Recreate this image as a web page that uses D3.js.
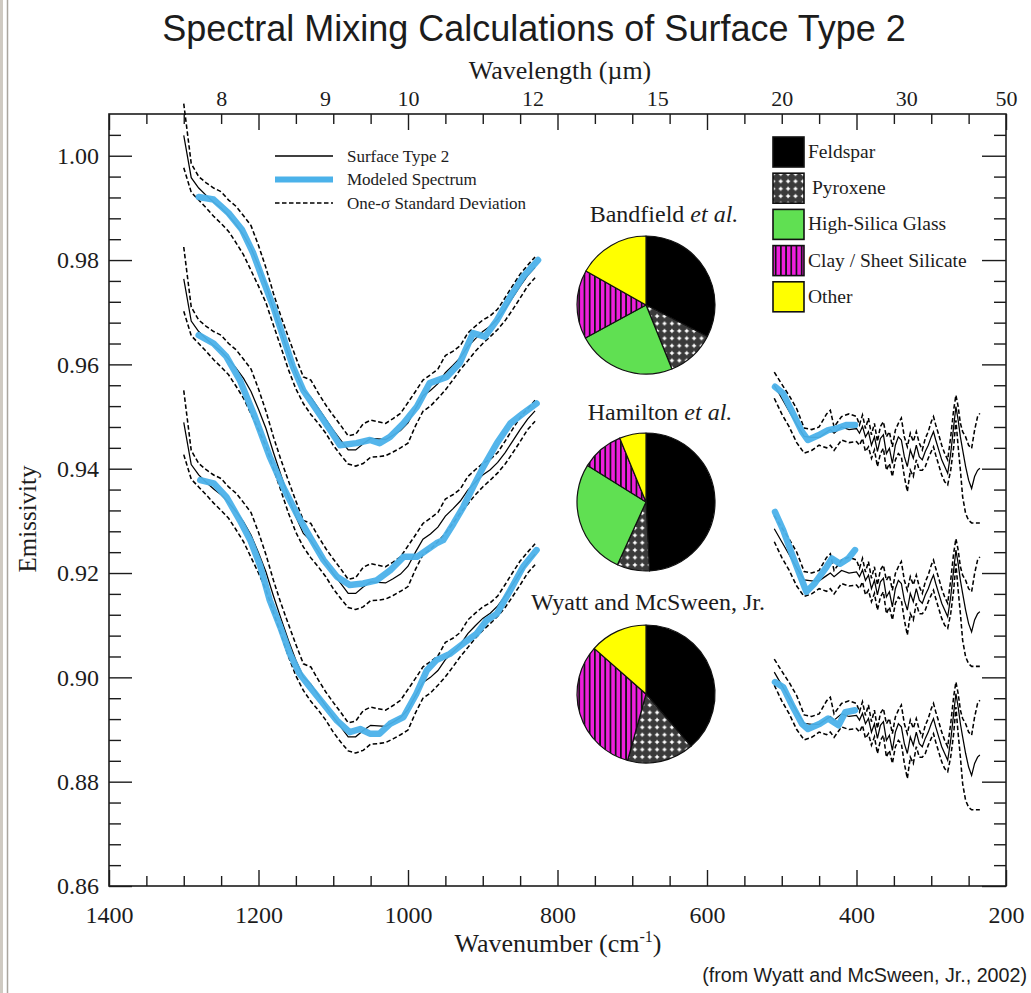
<!DOCTYPE html>
<html>
<head>
<meta charset="utf-8">
<script src="https://cdn.jsdelivr.net/npm/d3@7"></script>
<style>
  body { margin: 0; background: #fff; }
  svg { display: block; }
</style>
</head>
<body>
<svg id="chart" width="1031" height="993"></svg>
<script>
// ---- Measured Surface Type 2 spectrum (mean and one-sigma envelope), 1300-830 cm-1 ----
const wnLeft = [1300,1290,1280,1270,1260,1250,1240,1230,1220,1210,1200,1190,1180,1170,1160,1150,
  1140,1130,1120,1110,1100,1090,1080,1070,1060,1050,1040,1030,1020,1010,1000,990,980,970,960,950,
  940,930,920,910,900,890,880,870,860,850,840,830];
const meanLeft = [1.0039,0.9958,0.9938,0.9924,0.9911,0.9900,0.9885,0.9868,0.9848,0.9823,0.9789,0.9752,
  0.9706,0.9663,0.9621,0.9583,0.9551,0.9537,0.9516,0.9495,0.9474,0.9455,0.9436,0.9436,0.9448,0.9458,
  0.9457,0.9456,0.9464,0.9473,0.9488,0.9515,0.9540,0.9550,0.9563,0.9584,0.9598,0.9613,0.9634,0.9649,
  0.9663,0.9673,0.9687,0.9706,0.9728,0.9750,0.9770,0.9786];
const upperLeft = [1.0100,0.9985,0.9960,0.9948,0.9938,0.9931,0.9915,0.9903,0.9885,0.9866,0.9828,0.9785,
  0.9736,0.9692,0.9652,0.9613,0.9576,0.9570,0.9545,0.9522,0.9502,0.9483,0.9463,0.9466,0.9486,0.9493,
  0.9490,0.9487,0.9496,0.9506,0.9527,0.9548,0.9570,0.9580,0.9591,0.9617,0.9625,0.9636,0.9660,0.9673,
  0.9685,0.9693,0.9706,0.9728,0.9751,0.9773,0.9790,0.9806];
const lowerLeft = [0.9977,0.9930,0.9915,0.9900,0.9884,0.9870,0.9855,0.9833,0.9810,0.9780,0.9750,0.9718,
  0.9675,0.9633,0.9590,0.9553,0.9525,0.9504,0.9487,0.9468,0.9445,0.9426,0.9409,0.9405,0.9410,0.9422,
  0.9423,0.9425,0.9432,0.9440,0.9449,0.9482,0.9510,0.9520,0.9535,0.9551,0.9570,0.9590,0.9607,0.9625,
  0.9640,0.9653,0.9667,0.9684,0.9705,0.9727,0.9750,0.9766];

// ---- Measured spectrum, 510-235 cm-1 ----
const wnRight = [510,500,490,480,470,460,450,440,435,430,420,410,
  400,396,392,388,384,380,376,372,368,364,360,356,352,348,344,340,336,332,328,324,320,316,312,308,
  304,300,297,294,290,286,282,278,274,270,267,264,261,258,254,250,246,242,238,235];
const meanRight = [0.9560,0.9535,0.9510,0.9485,0.9462,0.9460,0.9460,0.9470,0.9475,0.9468,0.9480,0.9475,
  0.9477,0.9468,0.9481,0.9461,0.9471,0.9445,0.9461,0.9433,0.9458,0.9465,0.9429,0.9439,0.9410,0.9445,
  0.9461,0.9455,0.9423,0.9404,0.9436,0.9420,0.9445,0.9423,0.9417,0.9433,0.9445,0.9461,0.9471,0.9455,
  0.9436,0.9417,0.9404,0.9391,0.9429,0.9481,0.9519,0.9493,0.9461,0.9436,0.9404,0.9378,0.9362,0.9385,
  0.9397,0.9401];
const upperRight = [0.9585,0.9562,0.9540,0.9515,0.9478,0.9475,0.9480,0.9505,0.9512,0.9480,0.9500,0.9505,
  0.9500,0.9484,0.9503,0.9477,0.9497,0.9465,0.9487,0.9452,0.9481,0.9490,0.9461,0.9471,0.9442,0.9474,
  0.9487,0.9497,0.9461,0.9442,0.9468,0.9452,0.9471,0.9449,0.9436,0.9458,0.9471,0.9490,0.9500,0.9484,
  0.9465,0.9445,0.9429,0.9417,0.9461,0.9513,0.9541,0.9519,0.9487,0.9471,0.9461,0.9445,0.9439,0.9474,
  0.9500,0.9506];
const lowerRight = [0.9535,0.9505,0.9480,0.9450,0.9430,0.9435,0.9445,0.9440,0.9445,0.9435,0.9455,0.9450,
  0.9452,0.9445,0.9458,0.9433,0.9442,0.9420,0.9436,0.9404,0.9429,0.9439,0.9397,0.9410,0.9385,0.9417,
  0.9429,0.9423,0.9385,0.9356,0.9397,0.9385,0.9417,0.9397,0.9397,0.9404,0.9420,0.9433,0.9442,0.9426,
  0.9407,0.9388,0.9375,0.9369,0.9397,0.9442,0.9493,0.9442,0.9397,0.9346,0.9314,0.9301,0.9296,0.9296,
  0.9296,0.9296];

// Vertical offset of each stacked copy of the measured spectrum
const offsets = [0, -0.0275, -0.055];

// ---- Modeled spectra (one per study) ----
const modelWnLeft = [
  [1280,1260,1240,1222,1207,1194,1180,1167,1154,1140,1122,1104,1091,1069,1051,1038,1024,1006,988,971,948,931,913,897,881,863,846,826],
  [1280,1260,1243,1225,1205,1185,1167,1149,1131,1113,1095,1078,1060,1042,1024,1006,988,975,962,953,939,926,913,899,881,863,846,828],
  [1278,1260,1243,1225,1211,1198,1185,1171,1158,1145,1131,1113,1095,1078,1064,1051,1038,1024,1006,989,975,962,944,926,908,895,881,864,846,828]
];
const modelLeft = [
  [0.9921,0.9916,0.9890,0.9858,0.9813,0.9762,0.9710,0.9653,0.9596,0.9550,0.9512,0.9474,0.9445,0.9449,
   0.9455,0.9449,0.9461,0.9487,0.9519,0.9564,0.9576,0.9602,0.9660,0.9653,0.9685,0.9730,0.9768,0.9800],
  [0.9656,0.9640,0.9615,0.9570,0.9500,0.9423,0.9365,0.9314,0.9269,0.9225,0.9193,0.9177,0.9180,0.9186,
   0.9205,0.9231,0.9231,0.9244,0.9257,0.9263,0.9295,0.9327,0.9365,0.9404,0.9449,0.9487,0.9506,0.9525],
  [0.9378,0.9372,0.9346,0.9301,0.9263,0.9215,0.9148,0.9097,0.9045,0.9007,0.8981,0.8949,0.8917,0.8895,
   0.8901,0.8892,0.8892,0.8911,0.8924,0.8968,0.9013,0.9033,0.9045,0.9065,0.9084,0.9109,0.9122,0.9165,0.9212,0.9244]
];
const modelWnRight = [
  [509,498,485,473,465,451,438,427,413,402],
  [509,498,485,473,467,456,440,433,422,411,402],
  [509,498,485,473,465,449,438,424,415,402]
];
const modelRight = [
  [0.9557,0.9544,0.9506,0.9471,0.9455,0.9464,0.9474,0.9477,0.9484,0.9484],
  [0.9317,0.9282,0.9231,0.9186,0.9164,0.9180,0.9212,0.9228,0.9218,0.9228,0.9244],
  [0.8991,0.8981,0.8943,0.8911,0.8901,0.8911,0.8921,0.8908,0.8933,0.8937]
];

// ---- Mineral abundances (percent) ----
const minerals = ["Feldspar", "Pyroxene", "High-Silica Glass", "Clay / Sheet Silicate", "Other"];
const studies = ["Bandfield", "Hamilton", "Wyatt and McSween, Jr."];
const studyItalic = [" et al.", " et al.", ""];
const bandfield = [32.7, 11.4, 23.3, 16.2, 16.9];
const hamilton = [49.2, 7.6, 27.1, 9.9, 6.2];
const wyatt = [38.7, 15.6, 0, 32.2, 13.5];

// ---- Axis ticks ----
const majorWn = [1400, 1200, 1000, 800, 600, 400, 200];
const minorWn = [1350,1300,1250,1150,1100,1050,950,900,850,750,700,650,550,500,450,350,300,250];
const wavelengthLabels = ["8", "9", "10", "12", "15", "20", "30", "50"];   // micrometres
const majorEm = [0.86, 0.88, 0.90, 0.92, 0.94, 0.96, 0.98, 1.00];
const minorEm = [0.864,0.868,0.872,0.876,0.884,0.888,0.892,0.896,0.904,0.908,0.912,0.916,0.924,0.928,
  0.932,0.936,0.944,0.948,0.952,0.956,0.964,0.968,0.972,0.976,0.984,0.988,0.992,0.996,1.004];

// ------------------------------------------------------------------
const svg = d3.select("#chart");
const SERIF = "'Liberation Serif', 'Times New Roman', serif";
const SANS = "'Liberation Sans', Arial, sans-serif";
const INK = "#1c1c1c";
const BLUE = "#4cb2ea";

const x = d3.scaleLinear().domain([1400, 200]).range([109, 1006]);
const y = d3.scaleLinear().domain([0.86, 1.008]).range([886, 114]);
// wavelength (um) -> wavenumber (cm-1) for the top axis
const toWn = um => 1e4 / um;

const defs = svg.append("defs");
defs.append("filter").attr("id", "soft").attr("filterUnits", "userSpaceOnUse")
  .attr("x", 0).attr("y", 0).attr("width", 1031).attr("height", 993)
  .append("feGaussianBlur").attr("stdDeviation", 0.7);

// Pyroxene: dark fill with white dots
const pyx = defs.append("pattern").attr("id", "pyx").attr("patternUnits", "userSpaceOnUse")
  .attr("width", 7.4).attr("height", 7.4);
pyx.append("rect").attr("width", 7.4).attr("height", 7.4).attr("fill", "#3a3a3a");
pyx.append("circle").attr("cx", 3.7).attr("cy", 3.7).attr("r", 1.5).attr("fill", "#fff");
pyx.append("rect").attr("x", 1.6).attr("y", 3.2).attr("width", 4.2).attr("height", 1).attr("fill", "#fff");
pyx.append("rect").attr("x", 3.2).attr("y", 1.6).attr("width", 1).attr("height", 4.2).attr("fill", "#fff");

// Clay / sheet silicate: magenta with black vertical stripes
const clay = defs.append("pattern").attr("id", "clay").attr("patternUnits", "userSpaceOnUse")
  .attr("width", 5.2).attr("height", 10);
clay.append("rect").attr("width", 5.2).attr("height", 10).attr("fill", "#ee1fdc");
clay.append("rect").attr("x", 0).attr("width", 1.7).attr("height", 10).attr("fill", "#111");

const fills = ["#000", "url(#pyx)", "#60e052", "url(#clay)", "#ffff00"];

// page edge
svg.append("rect").attr("x", 0).attr("y", 0).attr("width", 3).attr("height", 993).attr("fill", "#cfcac2");
svg.append("line").attr("x1", 7.5).attr("x2", 7.5).attr("y1", 0).attr("y2", 993)
  .attr("stroke", "#a9a59e").attr("stroke-width", 1.5);

// ---- Title ----
svg.append("text").attr("x", 534).attr("y", 41).attr("text-anchor", "middle")
  .attr("font-family", SANS).attr("font-size", 36).attr("fill", INK)
  .text("Spectral Mixing Calculations of Surface Type 2");

// ---- Axes ----
function styleAxis(g, size) {
  g.select(".domain").remove();
  g.selectAll(".tick line").attr("stroke", INK).attr("stroke-width", 1.4);
  g.selectAll(".tick text").attr("font-family", SERIF).attr("font-size", size).attr("fill", INK);
}
// bottom
styleAxis(svg.append("g").attr("transform", "translate(0,886)")
  .call(d3.axisBottom(x).tickValues(minorWn).tickSizeInner(-10).tickSizeOuter(0).tickFormat("")), 0);
styleAxis(svg.append("g").attr("transform", "translate(0,886)")
  .call(d3.axisBottom(x).tickValues(majorWn).tickSizeInner(-16).tickSizeOuter(0).tickPadding(20)
    .tickFormat(d3.format("d"))), 24);
// top
styleAxis(svg.append("g").attr("transform", "translate(0,114)")
  .call(d3.axisTop(x).tickValues(minorWn).tickSizeInner(-10).tickSizeOuter(0).tickFormat("")), 0);
styleAxis(svg.append("g").attr("transform", "translate(0,114)")
  .call(d3.axisTop(x).tickValues(majorWn).tickSizeInner(-16).tickSizeOuter(0).tickFormat("")), 0);
styleAxis(svg.append("g").attr("transform", "translate(0,114)")
  .call(d3.axisTop(x).tickValues(wavelengthLabels.map(toWn)).tickSize(0).tickPadding(8)
    .tickFormat((d, i) => wavelengthLabels[i])), 22);
// left
styleAxis(svg.append("g").attr("transform", "translate(109,0)")
  .call(d3.axisLeft(y).tickValues(minorEm).tickSizeInner(-12).tickSizeOuter(0).tickFormat("")), 0);
styleAxis(svg.append("g").attr("transform", "translate(109,0)")
  .call(d3.axisLeft(y).tickValues(majorEm).tickSizeInner(-23).tickSizeOuter(0).tickPadding(10)
    .tickFormat(d3.format(".2f"))), 24);
// right
styleAxis(svg.append("g").attr("transform", "translate(1006,0)")
  .call(d3.axisRight(y).tickValues(minorEm).tickSizeInner(-12).tickSizeOuter(0).tickFormat("")), 0);
styleAxis(svg.append("g").attr("transform", "translate(1006,0)")
  .call(d3.axisRight(y).tickValues(majorEm).tickSizeInner(-24).tickSizeOuter(0).tickFormat("")), 0);

svg.append("rect").attr("x", x(1400)).attr("y", y(1.008))
  .attr("width", x(200) - x(1400)).attr("height", y(0.86) - y(1.008))
  .attr("fill", "none").attr("stroke", INK).attr("stroke-width", 1.6);

// axis titles
svg.append("text").attr("x", 560).attr("y", 79).attr("text-anchor", "middle")
  .attr("font-family", SERIF).attr("font-size", 26).attr("fill", INK).text("Wavelength (\u00b5m)");
const xt = svg.append("text").attr("x", 558).attr("y", 952).attr("text-anchor", "middle")
  .attr("font-family", SERIF).attr("font-size", 26).attr("fill", INK);
xt.append("tspan").text("Wavenumber (cm");
xt.append("tspan").attr("dy", -10).attr("font-size", 16).text("-1");
xt.append("tspan").attr("dy", 10).text(")");
svg.append("text").attr("transform", "translate(36,519) rotate(-90)").attr("text-anchor", "middle")
  .attr("font-family", SERIF).attr("font-size", 25).attr("fill", INK).text("Emissivity");

svg.append("text").attr("x", 1027).attr("y", 982).attr("text-anchor", "end")
  .attr("font-family", SANS).attr("font-size", 19.7).attr("fill", INK)
  .text("(from Wyatt and McSween, Jr., 2002)");

// ---- Spectra ----
const line = d3.line().x(d => x(d[0])).y(d => y(d[1]));
const zip = (wn, v, off) => wn.map((w, i) => [w, v[i] + off]);
const plot = svg.append("g");

offsets.forEach((off, g) => {
  [[wnLeft, upperLeft, lowerLeft, meanLeft], [wnRight, upperRight, lowerRight, meanRight]]
    .forEach(([wn, up, lo, mu]) => {
      [up, lo].forEach(arr => plot.append("path").datum(zip(wn, arr, off)).attr("d", line)
        .attr("fill", "none").attr("stroke", "#000").attr("stroke-width", 1.55)
        .attr("stroke-dasharray", "4.5,2.5"));
      plot.append("path").datum(zip(wn, mu, off)).attr("d", line)
        .attr("fill", "none").attr("stroke", "#000").attr("stroke-width", 1.25);
    });
  [[modelWnLeft[g], modelLeft[g]], [modelWnRight[g], modelRight[g]]].forEach(([wn, v]) => {
    plot.append("path").datum(zip(wn, v, 0)).attr("d", line)
      .attr("fill", "none").attr("stroke", BLUE).attr("stroke-width", 6.5)
      .attr("stroke-linejoin", "round").attr("stroke-linecap", "round")
      .attr("opacity", 0.95).attr("filter", "url(#soft)");
  });
});

// ---- Curve legend ----
const lg = svg.append("g").attr("font-family", SERIF).attr("font-size", 17).attr("fill", INK);
const legendItems = [
  { label: "Surface Type 2", stroke: "#000", width: 1.3, dash: null },
  { label: "Modeled Spectrum", stroke: BLUE, width: 6, dash: null },
  { label: "One-\u03c3 Standard Deviation", stroke: "#000", width: 1.5, dash: "4.5,2.5" }
];
legendItems.forEach((it, i) => {
  const yy = 156 + i * 23.5;
  const l = lg.append("line").attr("x1", 275).attr("x2", 333).attr("y1", yy).attr("y2", yy)
    .attr("stroke", it.stroke).attr("stroke-width", it.width);
  if (it.dash) l.attr("stroke-dasharray", it.dash);
  if (it.stroke === BLUE) l.attr("filter", "url(#soft)");
  lg.append("text").attr("x", 347).attr("y", yy + 5.5).text(it.label);
});

// ---- Mineral legend ----
const ml = svg.append("g");
minerals.forEach((m, i) => {
  const top = 137 + i * 36.2;
  ml.append("rect").attr("x", 773).attr("y", top).attr("width", 31).attr("height", 30)
    .attr("fill", fills[i]).attr("stroke", "#111").attr("stroke-width", 1.6);
  ml.append("text").attr("x", i === 1 ? 812 : 808).attr("y", top + 21)
    .attr("font-family", SERIF).attr("font-size", 19.5).attr("fill", INK).text(m);
});

// ---- Pies ----
const pie = d3.pie().sort(null).value(d => d);
const arc = d3.arc().innerRadius(0).outerRadius(69);
const pieData = [bandfield, hamilton, wyatt];
const pieCenters = [[646, 305], [646, 502], [646, 694]];
const titleX = [664, 660, 648];
const titleY = [222, 420, 610];
pieData.forEach((vals, k) => {
  const t = svg.append("text").attr("x", titleX[k]).attr("y", titleY[k]).attr("text-anchor", "middle")
    .attr("font-family", SERIF).attr("font-size", 24).attr("fill", INK);
  t.append("tspan").text(studies[k]);
  if (studyItalic[k]) t.append("tspan").attr("font-style", "italic").text(studyItalic[k]);
  const g = svg.append("g").attr("transform", `translate(${pieCenters[k][0]},${pieCenters[k][1]})`);
  g.selectAll("path").data(pie(vals).filter(d => d.value > 0)).join("path")
    .attr("d", arc).attr("fill", d => fills[d.index])
    .attr("stroke", "#111").attr("stroke-width", 1.2).attr("stroke-linejoin", "round");
});
</script>
</body>
</html>
